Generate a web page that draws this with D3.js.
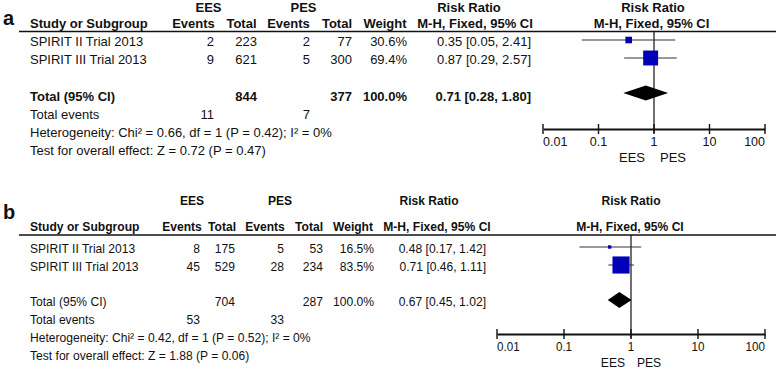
<!DOCTYPE html>
<html><head><meta charset="utf-8">
<script src="https://cdn.jsdelivr.net/npm/d3@7"></script>
<style>
html,body{margin:0;padding:0;background:#fff;}
svg{display:block;font-family:"Liberation Sans",Arial,sans-serif;}
</style></head>
<body>
<svg id="chart" width="778" height="370"></svg>
<script>
// ---------- data ----------
const studies = ["SPIRIT II Trial 2013", "SPIRIT III Trial 2013"];
const ticks = [0.01, 0.1, 1, 10, 100];
const tickLabels = ["0.01", "0.1", "1", "10", "100"];

// panel a
const aEesEvents = [2, 9];
const aEesTotal = [223, 621];
const aPesEvents = [2, 5];
const aPesTotal = [77, 300];
const aWeight = [30.6, 69.4];
const aRR = [0.35, 0.87];
const aLow = [0.05, 0.29];
const aHigh = [2.41, 2.57];
const aPooled = [0.71, 0.28, 1.80];
const aSums = [844, 377];
const aEventSums = [11, 7];
const aHet = "Heterogeneity: Chi\u00B2 = 0.66, df = 1 (P = 0.42); I\u00B2 = 0%";
const aTest = "Test for overall effect: Z = 0.72 (P = 0.47)";

// panel b
const bEesEvents = [8, 45];
const bEesTotal = [175, 529];
const bPesEvents = [5, 28];
const bPesTotal = [53, 234];
const bWeight = [16.5, 83.5];
const bRR = [0.48, 0.71];
const bLow = [0.17, 0.46];
const bHigh = [1.42, 1.11];
const bPooled = [0.67, 0.45, 1.02];
const bSums = [704, 287];
const bEventSums = [53, 33];
const bHet = "Heterogeneity: Chi\u00B2 = 0.42, df = 1 (P = 0.52); I\u00B2 = 0%";
const bTest = "Test for overall effect: Z = 1.88 (P = 0.06)";

const svg = d3.select("#chart");
const fmt2 = d3.format(".2f");
const ci = (r, l, h) => `${fmt2(r)} [${fmt2(l)}, ${fmt2(h)}]`;

function txt(g, x, y, s, o = {}) {
  const sx = o.sx || 1;
  return g.append("text")
    .attr("transform", `translate(${x},${y}) scale(${sx},1)`)
    .attr("text-anchor", o.anchor || "start")
    .attr("font-size", o.size || 13)
    .attr("font-weight", o.bold ? "bold" : "normal")
    .attr("fill", "#111")
    .text(s);
}

function panel(cfg, d) {
  const g = svg.append("g");
  const sx = cfg.sx;
  const L = cfg.layout;
  txt(g, 3, L.labelY, cfg.label, {bold: true, size: 20});
  // header row 1
  txt(g, L.colC.ees, L.h1, "EES", {bold: true, anchor: "middle", sx});
  txt(g, L.colC.pes, L.h1, "PES", {bold: true, anchor: "middle", sx});
  txt(g, L.colC.rr, L.h1, "Risk Ratio", {bold: true, anchor: "middle", sx});
  txt(g, L.colC.rr2, L.h1, "Risk Ratio", {bold: true, anchor: "middle", sx});
  // header row 2
  txt(g, 30, L.h2, "Study or Subgroup", {bold: true, sx});
  const heads = [["Events", L.colC.e1], ["Total", L.colC.t1], ["Events", L.colC.e2],
                 ["Total", L.colC.t2], ["Weight", L.colC.w], ["M-H, Fixed, 95% CI", L.colC.mh],
                 ["M-H, Fixed, 95% CI", L.colC.mh2]];
  heads.forEach(([s, x]) => txt(g, x, L.h2, s, {bold: true, anchor: "middle", sx}));
  g.append("line").attr("x1", 19).attr("x2", 776).attr("y1", L.line).attr("y2", L.line)
    .attr("stroke", "#111").attr("stroke-width", 1.6);

  const R = L.colR;
  // study rows
  studies.forEach((s, i) => {
    const y = L.rows[i];
    txt(g, 30, y, s, {sx});
    txt(g, R.e1, y, d.eesE[i], {anchor: "end", sx});
    txt(g, R.t1, y, d.eesT[i], {anchor: "end", sx});
    txt(g, R.e2, y, d.pesE[i], {anchor: "end", sx});
    txt(g, R.t2, y, d.pesT[i], {anchor: "end", sx});
    txt(g, R.w, y, d.w[i].toFixed(1) + "%", {anchor: "end", sx});
    txt(g, R.ci, y, ci(d.rr[i], d.lo[i], d.hi[i]), {anchor: "end", sx});
  });
  // total row
  const tb = cfg.totalBold;
  txt(g, 30, L.total, "Total (95% CI)", {bold: tb, sx});
  txt(g, R.t1, L.total, d.sums[0], {bold: tb, anchor: "end", sx});
  txt(g, R.t2, L.total, d.sums[1], {bold: tb, anchor: "end", sx});
  txt(g, R.w, L.total, d3.sum(d.w).toFixed(1) + "%", {bold: tb, anchor: "end", sx});
  txt(g, R.ci, L.total, ci(d.pooled[0], d.pooled[1], d.pooled[2]), {bold: tb, anchor: "end", sx});
  txt(g, 30, L.tev, "Total events", {sx});
  txt(g, R.e1, L.tev, d.evs[0], {anchor: "end", sx});
  txt(g, R.e2, L.tev, d.evs[1], {anchor: "end", sx});
  txt(g, 30, L.het, d.het, {sx});
  txt(g, 30, L.test, d.test, {sx});

  // forest plot
  const x = d3.scaleLog().domain([0.01, 100]).range(cfg.xr);
  const size = d3.scaleLinear().domain([0, 100]).range([0, cfg.boxMax]);
  g.append("line").attr("x1", x(1)).attr("x2", x(1)).attr("y1", L.line).attr("y2", L.axis + 4)
    .attr("stroke", "#111").attr("stroke-width", 1.2);
  d.rr.forEach((r, i) => {
    const y = L.boxes[i];
    g.append("line").attr("x1", x(d.lo[i])).attr("x2", x(d.hi[i])).attr("y1", y).attr("y2", y)
      .attr("stroke", "#333").attr("stroke-width", 1);
    const s = size(d.w[i]);
    g.append("rect").attr("x", x(r) - s / 2).attr("y", y - s / 2).attr("width", s).attr("height", s)
      .attr("fill", "#0000b8");
  });
  const dy = L.diamond, dh = cfg.diamondH;
  g.append("path")
    .attr("d", `M${x(d.pooled[1])},${dy}L${x(d.pooled[0])},${dy - dh}L${x(d.pooled[2])},${dy}L${x(d.pooled[0])},${dy + dh}Z`)
    .attr("fill", "#000");
  // axis
  const axis = d3.axisBottom(x).tickValues(ticks).tickSize(0).tickFormat("");
  const ag = g.append("g").attr("transform", `translate(0,${L.axis})`).call(axis);
  ag.select(".domain").attr("stroke", "#111").attr("stroke-width", 1.8);
  ticks.forEach((t, i) => {
    g.append("line").attr("x1", x(t)).attr("x2", x(t)).attr("y1", L.axis - 5).attr("y2", L.axis + 5)
      .attr("stroke", "#111").attr("stroke-width", 1.4);
    const anchor = i === 0 ? "start" : (i === ticks.length - 1 ? "end" : "middle");
    txt(g, x(t), L.tickY, tickLabels[i], {anchor, sx, size: 12.5});
  });
  txt(g, x(1) - cfg.eesOff, L.favY, "EES", {anchor: "end", sx});
  txt(g, x(1) + 6, L.favY, "PES", {anchor: "start", sx});
}

panel({
  label: "a", sx: 1, totalBold: true, xr: [543, 765], boxMax: 21.5, diamondH: 7.5, eesOff: 9,
  layout: {
    labelY: 25, h1: 12, h2: 28, line: 31.5,
    colC: {ees: 208.5, pes: 303.5, rr: 469, rr2: 653, e1: 193.5, t1: 241.5, e2: 288.5, t2: 337, w: 385, mh: 475, mh2: 651.5},
    colR: {e1: 214, t1: 257, e2: 310, t2: 352, w: 407, ci: 531},
    rows: [46, 64], total: 101, tev: 119, het: 137, test: 155,
    boxes: [40, 58], diamond: 93, axis: 129, tickY: 146, favY: 162
  }
}, {eesE: aEesEvents, eesT: aEesTotal, pesE: aPesEvents, pesT: aPesTotal, w: aWeight, rr: aRR, lo: aLow, hi: aHigh,
    pooled: aPooled, sums: aSums, evs: aEventSums, het: aHet, test: aTest});

panel({
  label: "b", sx: 0.93, totalBold: false, xr: [497, 765], boxMax: 20.5, diamondH: 8, eesOff: 6,
  layout: {
    labelY: 219, h1: 205, h2: 231, line: 235,
    colC: {ees: 192, pes: 280, rr: 429, rr2: 631, e1: 182, t1: 222, e2: 265, t2: 309, w: 353, mh: 437, mh2: 630},
    colR: {e1: 200, t1: 235, e2: 284, t2: 323, w: 374, ci: 486},
    rows: [253, 271], total: 306, tev: 324, het: 342, test: 360,
    boxes: [247, 265], diamond: 300, axis: 334, tickY: 351, favY: 367
  }
}, {eesE: bEesEvents, eesT: bEesTotal, pesE: bPesEvents, pesT: bPesTotal, w: bWeight, rr: bRR, lo: bLow, hi: bHigh,
    pooled: bPooled, sums: bSums, evs: bEventSums, het: bHet, test: bTest});
</script>
</body></html>
